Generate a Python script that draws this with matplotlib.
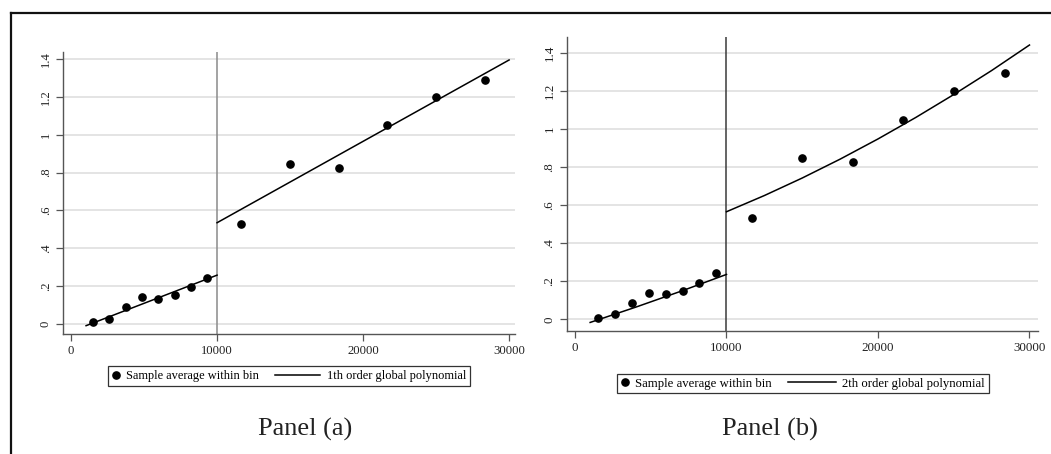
import matplotlib
matplotlib.use('Agg')
from matplotlib import pyplot as plt
from matplotlib.lines import Line2D
from matplotlib.legend_handler import HandlerLine2D

### data (same bins in both)

bin_x = [1530, 2630, 3775, 4855, 5985, 7100, 8190, 9325,
         11670, 15010, 18350, 21650, 25000, 28380]
bin_y = [0.009, 0.027, 0.088, 0.140, 0.131, 0.151, 0.193, 0.243,
         0.530, 0.846, 0.826, 1.049, 1.198, 1.291]

cutoff = 10000

# panel (a) -> 1th order fit, segment ends
fit1_left_x = [1030, 10000]
fit1_left_y = [-0.009, 0.258]
fit1_right_x = [10000, 30000]
fit1_right_y = [0.535, 1.395]

# panel (b) -> 2th order fit
fit2_left_x = [1000, 4000, 7000, 10000]
fit2_left_y = [-0.016, 0.064, 0.148, 0.236]
fit2_right_x = [10000, 12500, 15000, 17500, 20000, 22500, 25000, 27500, 30000]
fit2_right_y = [0.565, 0.650, 0.742, 0.841, 0.947, 1.060, 1.180, 1.306, 1.440]

x_ticks = [0, 10000, 20000, 30000]
y_ticks = [0, 0.2, 0.4, 0.6, 0.8, 1.0, 1.2, 1.4]
y_labels = ['0', '.2', '.4', '.6', '.8', '1', '1.2', '1.4']

panel_names = ['Panel (a)', 'Panel (b)']
dot_label = 'Sample average within bin'
fit_labels = ['1th order global polynomial', '2th order global polynomial']

SERIF = ['Liberation Serif', 'DejaVu Serif']


class HandlerLongLine(HandlerLine2D):
	# stata key: line reaches back into the gap before its label
	def get_xdata(self, legend, xdescent, ydescent, width, height, fontsize):
		xd = [-xdescent - 3.1 * fontsize, -xdescent + width]
		return xd, xd


def drawPanel(fig, rect, xlim, ylim, fits, vcolor, label, leg_pos, fs):
	ax = fig.add_axes(rect)
	ax.set_xlim(xlim)
	ax.set_ylim(ylim)

	ax.set_yticks(y_ticks)
	ax.set_yticklabels(y_labels, rotation=90, va='center', family=SERIF, fontsize=fs)
	ax.set_xticks(x_ticks)
	ax.set_xticklabels([str(v) for v in x_ticks], family=SERIF, fontsize=fs)
	ax.tick_params(direction='out', length=5, width=0.9, color='#555555', labelcolor='#222222', pad=3)

	ax.yaxis.grid(True, color='#e2e2e2', lw=1.3)
	ax.set_axisbelow(True)
	for s in ['top', 'right']:
		ax.spines[s].set_visible(False)
	for s in ['left', 'bottom']:
		ax.spines[s].set_color('#555555')
		ax.spines[s].set_linewidth(1.0)
	ax.patch.set_alpha(0)

	ax.axvline(cutoff, color=vcolor, lw=1.1, zorder=2)
	for fx, fy in fits:
		ax.plot(fx, fy, color='black', lw=1.1, zorder=3)
	ax.plot(bin_x, bin_y, ls='none', marker='o', ms=5.2, color='black', zorder=4)

	dot = Line2D([], [], ls='none', marker='o', ms=5.2, color='black')
	line = Line2D([], [], color='black', lw=1.1)
	leg = fig.legend([dot, line], [dot_label, label], ncol=2, loc='center',
		bbox_to_anchor=leg_pos, bbox_transform=fig.transFigure,
		handler_map={line: HandlerLongLine()}, prop={'family': SERIF, 'size': fs - 0.2},
		handlelength=0.6, handletextpad=0.5, columnspacing=4.4, borderpad=0.3,
		fancybox=False, framealpha=1, edgecolor='#333333', facecolor='white')
	leg.get_frame().set_linewidth(0.9)
	return ax


if __name__ == "__main__":
	fig = plt.figure(figsize=(10.51, 4.54), dpi=100)
	fig.patch.set_facecolor('white')

	drawPanel(fig, [0.0597, 0.2643, 0.4304, 0.6211], (-568, 30411), (-0.053, 1.437),
		[(fit1_left_x, fit1_left_y), (fit1_right_x, fit1_right_y)], '#8a8a8a',
		fit_labels[0], (0.275, 0.172), 9.1)
	drawPanel(fig, [0.5392, 0.2709, 0.4487, 0.6482], (-548, 30581), (-0.061, 1.4835),
		[(fit2_left_x, fit2_left_y), (fit2_right_x, fit2_right_y)], '#3a3a3a',
		fit_labels[1], (0.764, 0.155), 9.4)

	fig.text(0.290, 0.053, panel_names[0], ha='center', va='center', family=SERIF, fontsize=19, color='#222222')
	fig.text(0.733, 0.053, panel_names[1], ha='center', va='center', family=SERIF, fontsize=19, color='#222222')

	# outer frame of the figure (top and left edges show)
	fig.add_artist(Line2D([10.5 / 1051, 1], [1 - 13 / 454, 1 - 13 / 454], transform=fig.transFigure, color='#111111', lw=1.6))
	fig.add_artist(Line2D([10.5 / 1051, 10.5 / 1051], [0, 1 - 13 / 454], transform=fig.transFigure, color='#111111', lw=1.6))

	fig.savefig('out.png', dpi=100)
